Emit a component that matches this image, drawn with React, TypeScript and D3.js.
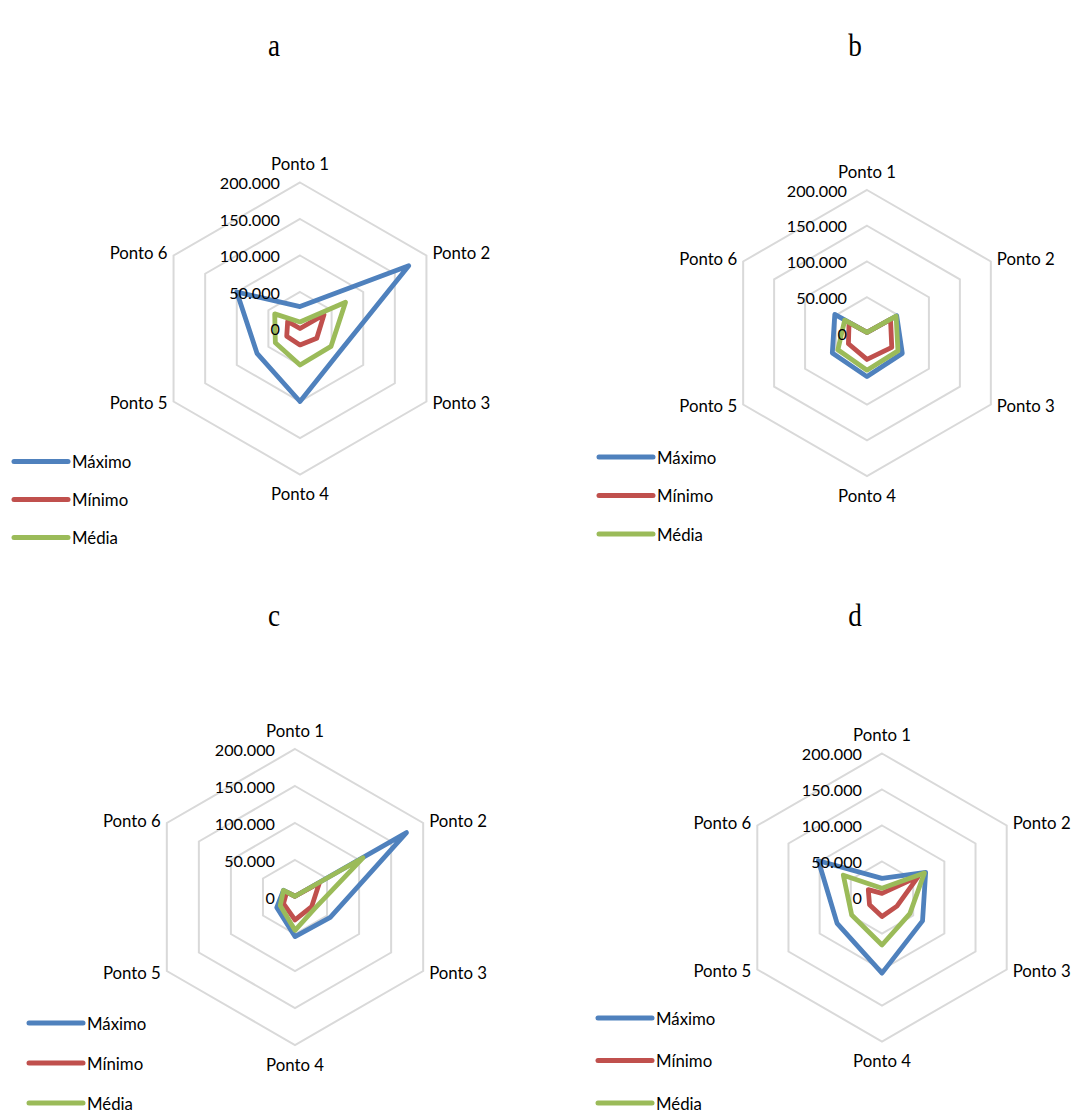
import React from 'react';
import * as d3 from 'd3';

// Data
const categories = ['Ponto 1', 'Ponto 2', 'Ponto 3', 'Ponto 4', 'Ponto 5', 'Ponto 6'];
const tickValues = [0, 50000, 100000, 150000, 200000];
const seriesNames = ['Máximo', 'Mínimo', 'Média'];
const panelLabels = ['a', 'b', 'c', 'd'];

const maximoA = [30000, 172000, 63000, 100000, 68000, 100000];
const minimoA = [0, 38000, 26500, 22500, 21000, 19500];
const mediaA = [9000, 72000, 49000, 50000, 39000, 40000];

const maximoB = [1000, 48000, 57000, 61000, 56000, 52000];
const minimoB = [1000, 38000, 40000, 37000, 30000, 29000];
const mediaB = [1000, 47000, 50000, 52000, 47000, 36000];

const maximoC = [1000, 174000, 55000, 53500, 28500, 18000];
const minimoC = [1000, 38000, 26000, 31000, 18000, 13000];
const mediaC = [1000, 106000, 31000, 45000, 23000, 18000];

const maximoD = [26500, 70000, 65000, 105000, 72000, 102000];
const minimoD = [5800, 58000, 24000, 26500, 20000, 22000];
const mediaD = [12800, 68000, 44700, 66000, 48600, 62000];

const colors = ['#4F81BD', '#C0504D', '#9BBB59'];

// layout of the four panels
const panels = [
  { label: panelLabels[0], series: [maximoA, minimoA, mediaA], cx: 300, cy: 328.5, R: 146, titleX: 274, titleY: 56, legX: 14, legY: 461.5, legGap: 38 },
  { label: panelLabels[1], series: [maximoB, minimoB, mediaB], cx: 867, cy: 333, R: 143, titleX: 855, titleY: 56, legX: 599, legY: 457, legGap: 38.5 },
  { label: panelLabels[2], series: [maximoC, minimoC, mediaC], cx: 295, cy: 897, R: 148, titleX: 274, titleY: 626, legX: 29, legY: 1023, legGap: 40 },
  { label: panelLabels[3], series: [maximoD, minimoD, mediaD], cx: 882, cy: 897.5, R: 144, titleX: 855, titleY: 626, legX: 598, legY: 1018, legGap: 42.5 },
];

const fmt = d3.formatLocale({ decimal: ',', thousands: '.', grouping: [3], currency: ['R$', ''] }).format(',d');
const font = 'Lato, "Open Sans", sans-serif';
const step = (2 * Math.PI) / categories.length;

const RadarPanel = ({ p }: { p: typeof panels[number] }) => {
  const r = d3.scaleLinear().domain([0, 200000]).range([0, p.R]);
  const line = d3.lineRadial<number>()
    .angle((_, i) => i * step)
    .radius(d => r(d))
    .curve(d3.curveLinearClosed);

  return (
    <g>
      <text x={p.titleX} y={p.titleY} fontFamily='"Liberation Serif", serif' fontSize={32}
        textAnchor="middle" transform={`translate(${p.titleX},0) scale(0.85,1) translate(${-p.titleX},0)`}>
        {p.label}
      </text>
      <g transform={`translate(${p.cx},${p.cy})`}>
        {tickValues.filter(t => t > 0).map(t => (
          <path key={t} d={line(categories.map(() => t))!} fill="none" stroke="#D9D9D9" strokeWidth={2} />
        ))}
        {p.series.map((s, k) => (
          <path key={k} d={line(s)!} fill="none" stroke={colors[k]} strokeWidth={4.8} strokeLinejoin="round" />
        ))}
        {tickValues.map(t => (
          <text key={t} x={-20} y={-r(t)} textAnchor="end" dominantBaseline="central"
            fontFamily={font} fontSize={16.2} fill="#000">{fmt(t)}</text>
        ))}
        {categories.map((c, i) => {
          const a = i * step;
          const x = Math.sin(a) * p.R;
          const y = -Math.cos(a) * p.R;
          const side = Math.abs(Math.sin(a)) > 0.01;
          const dx = side ? (Math.sin(a) > 0 ? 6 : -6) : 0;
          const dy = side ? (y < 0 ? -3 : 1) : (y < 0 ? -19 : 19);
          const anchor = side ? (Math.sin(a) > 0 ? 'start' : 'end') : 'middle';
          return (
            <text key={c} x={x + dx} y={y + dy} textAnchor={anchor} dominantBaseline="central"
              fontFamily={font} fontSize={16.8} fill="#000">{c}</text>
          );
        })}
      </g>
      {seriesNames.map((n, k) => (
        <g key={n} transform={`translate(${p.legX},${p.legY + k * p.legGap})`}>
          <line x1={0} x2={54} y1={0} y2={0} stroke={colors[k]} strokeWidth={5} strokeLinecap="round" />
          <text x={58} y={0} dominantBaseline="central" fontFamily={font} fontSize={16.8} fill="#000">{n}</text>
        </g>
      ))}
    </g>
  );
};

export default function App() {
  return (
    <svg width={1073} height={1113} style={{ position: 'absolute', left: 0, top: 0, background: '#fff' }}>
      {panels.map(p => <RadarPanel key={p.label} p={p} />)}
    </svg>
  );
}
